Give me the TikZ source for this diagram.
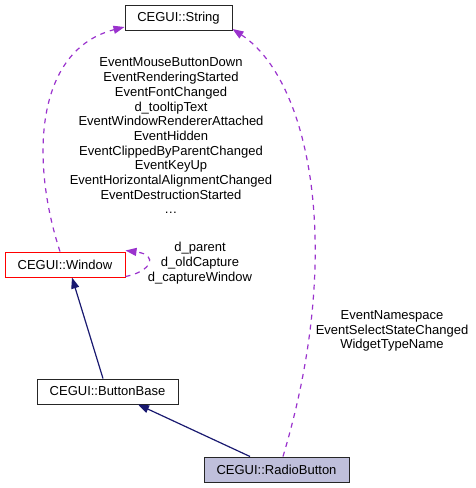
\documentclass[tikz,border=0pt]{standalone}
\usepackage{fontspec}
\setmainfont{Liberation Sans}
\usetikzlibrary{arrows.meta,calc,positioning}
\definecolor{inheritblue}{HTML}{191970}
\definecolor{usepurple}{HTML}{9A32CD}
\definecolor{currentfill}{HTML}{BFBFDB}
\tikzset{%
	classbox/.style = {draw=black!85, line width=1pt, rectangle, minimum height=25pt, inner sep=0pt, text centered, font=\fontsize{13}{14.7}\selectfont},
	current/.style  = {classbox, fill=currentfill},
	badbox/.style   = {classbox, draw=red},
	edgelabel/.style= {align=center, inner sep=0pt, font=\fontsize{13}{14.7}\selectfont},
	inherit/.style  = {draw=inheritblue, line width=1.2pt, -{Triangle[length=11pt,width=8pt]}, inheritblue},
	usage/.style    = {draw=usepurple, line width=1.2pt, dash pattern=on 5pt off 5pt, -{Triangle[length=11pt,width=8pt]}, usepurple},
}

\begin{document}
\begin{tikzpicture}[x=1pt,y=-1pt]
	\useasboundingbox (0,0) rectangle (475,488);
	\node [classbox, minimum width=107pt] (string) at (178.5,18) {CEGUI::String};
	\node [badbox, minimum width=120pt] (window) at (65,264.5) {CEGUI::Window};
	\node [classbox, minimum width=141pt] (buttonbase) at (107.5,391.5) {CEGUI::ButtonBase};
	\node [current, minimum width=145pt] (radio) at (276.5,469.5) {CEGUI::RadioButton};
	
	\node [edgelabel] (windowlbl) at (171,136) {EventMouseButtonDown\\EventRenderingStarted\\EventFontChanged\\d\_tooltipText\\EventWindowRendererAttached\\EventHidden\\EventClippedByParentChanged\\EventKeyUp\\EventHorizontalAlignmentChanged\\EventDestructionStarted\\\ldots};
	\node [edgelabel] (selflbl) at (200,263) {d\_parent\\d\_oldCapture\\d\_captureWindow};
	\node [edgelabel] (radiolbl) at (392,331) {EventNamespace\\EventSelectStateChanged\\WidgetTypeName};
	
	\draw[inherit] ($(buttonbase.north)+(-4.5,0)$) -- ($(window.south)+(7,0)$);
	\draw[inherit] ($(radio.north)+(-26.5,0)$) -- ($(buttonbase.south)+(30.5,0)$);
	\draw[usage] ($(window.north)+(-5,0)$) .. controls (30,160) and (35,50) .. ($(string.south west)+(0,-4)$);
	\draw[usage] ($(radio.north)+(6.5,0)$) .. controls (345,250) and (310,80) .. ($(string.south east)+(0,-2)$);
	\draw[usage] ($(window.south east)+(0,-1)$) .. controls (150,272) and (160,255) .. ($(window.north east)+(0,-1)$);
\end{tikzpicture}
\end{document}
